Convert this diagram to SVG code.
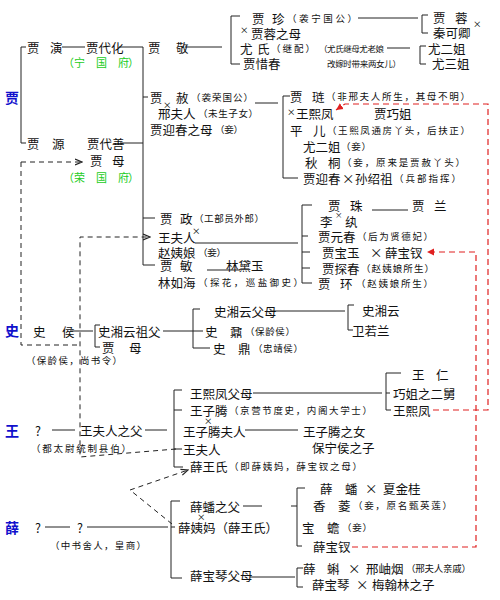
<svg xmlns="http://www.w3.org/2000/svg" width="500" height="600" viewBox="0 0 500 600">
<style>
text{font-family:"Noto Sans CJK SC","Noto Sans",sans-serif;font-size:12.5px;fill:#111;dominant-baseline:central}
.s{font-size:9.5px}
.x{font-size:8.5px}
.g{fill:#22cc22;font-size:11px}
.b{fill:#1010cc;font-weight:bold;font-size:14px}
.l{stroke:#222;stroke-width:1;fill:none}
.d{stroke:#222;stroke-width:1;fill:none;stroke-dasharray:5 4}
.r{stroke:#e02020;stroke-width:1.2;fill:none;stroke-dasharray:6 4}
</style>
<defs>
<marker id="ak" markerWidth="8" markerHeight="8" refX="7" refY="4" orient="auto" markerUnits="userSpaceOnUse"><path d="M0,1 L7,4 L0,7" fill="none" stroke="#222" stroke-width="1.2"/></marker>
<marker id="ar" markerWidth="8" markerHeight="8" refX="7" refY="4" orient="auto" markerUnits="userSpaceOnUse"><path d="M0,0.5 L7,4 L0,7.5 z" fill="#e02020"/></marker>
</defs>
<rect width="500" height="600" fill="#fff"/>

<g id="connectors">
<path class="l" d="M26 47H21V143H26"/>
<path class="l" d="M62 47H85M119 47H143M120 143H143"/>
<path class="l" d="M143 47V265H155M143 97H148M143 218H155"/>
<path class="l" d="M185 47H222"/>
<path class="l" d="M240 16H231V64H240"/>
<path class="l" d="M358 18H418M428 15H422V33H428"/>
<path class="l" d="M387 48H410M426 46H420V64H426"/>
<path class="l" d="M255 103H278M290 96H283V178H298"/>
<path class="l" d="M195 243H298M312 205H302V283H312M302 236H308M302 252H310M302 268H310"/>
<path class="l" d="M207 270H240M372 210H408"/>
<path class="l" d="M70 331H93M100 325H95V347H100"/>
<path class="l" d="M163 331H193M200 309H193V348H210M193 331H203"/>
<path class="l" d="M270 311H345M354 305H348V330H353"/>
<path class="l" d="M52 430H75M145 430H167"/>
<path class="l" d="M182 390H174V467H183M174 410H182M174 449H182"/>
<path class="l" d="M253 393H382M401 373H386V410H391M386 393H390"/>
<path class="l" d="M245 430H298"/>
<path class="l" d="M45 527H70M87 527H168"/>
<path class="l" d="M180 501H171V578H182M171 527H175"/>
<path class="l" d="M243 506H262M291 506H297M305 488H297V546H302"/>
<path class="l" d="M250 577H295M303 568H297V587H303"/>
<path class="d" d="M21 162H82" marker-end="url(#ak)"/>
<path class="d" d="M21 162V345H80"/>
<path class="d" d="M176 449L80 457V237H150" marker-end="url(#ak)"/>
<path class="d" d="M172 524L130 490L188 470" marker-end="url(#ak)"/>
<path class="r" d="M433 410H488V104H345L336 110" marker-end="url(#ar)"/>
<path class="r" d="M352 547H476V252H427" marker-end="url(#ar)"/>
</g>

<g id="surnames">
<text class="b" x="5" y="97">贾</text>
<text class="b" x="5" y="330">史</text>
<text class="b" x="5" y="430">王</text>
<text class="b" x="5" y="527">薛</text>
</g>

<g id="jia-yan"><text x="27" y="47">贾<tspan x="50">演</tspan></text></g>
<g id="jia-daihua"><text x="86" y="47">贾代化</text></g>
<g id="ningguofu"><text class="g" x="63" y="62">（<tspan x="74">宁</tspan><tspan x="96">国</tspan><tspan x="118">府</tspan><tspan x="128">）</tspan></text></g>
<g id="jia-jing"><text x="148" y="47">贾<tspan x="176">敬</tspan></text></g>
<g id="jia-zhen"><text x="252" y="18">贾<tspan x="272">珍</tspan></text><text class="s" x="287" y="18" textLength="70">（袭宁国公）</text></g>
<g id="jiarong-mother"><text class="x" x="240" y="29">×</text><text x="251" y="33">贾蓉之母</text></g>
<g id="you-shi"><text x="240" y="48">尤<tspan x="257">氏</tspan></text><text class="s" x="271" y="48" textLength="44">（继配）</text><text class="s" x="319" y="48" textLength="65" style="font-size:8.5px">（尤氏继母尤老娘</text><text class="s" x="327" y="63" textLength="74" style="font-size:8.5px">改嫁时带来两女儿）</text></g>
<g id="jia-xichun"><text x="243" y="63">贾惜春</text></g>
<g id="jia-rong"><text x="433" y="17">贾<tspan x="455">蓉</tspan></text><text class="x" x="473" y="23">×</text></g>
<g id="qin-keqing"><text x="433" y="32">秦可卿</text></g>
<g id="you-erjie-1"><text x="428" y="48">尤二姐</text></g>
<g id="you-sanjie"><text x="432" y="63">尤三姐</text></g>

<g id="jia-she"><text x="150" y="97">贾<tspan x="176">赦</tspan></text><text class="s" x="191" y="97" textLength="62">（袭荣国公）</text></g>
<g id="xing-furen"><text class="x" x="163" y="104">×</text><text x="158" y="113">邢夫人</text><text class="s" x="198" y="113" textLength="60">（未生子女）</text></g>
<g id="yingchun-mother"><text x="150" y="129">贾迎春之母</text><text class="s" x="215" y="129" textLength="28">（妾）</text></g>
<g id="jia-yuan"><text x="27" y="143">贾<tspan x="52">源</tspan></text></g>
<g id="jia-daishan"><text x="87" y="143">贾代善</text></g>
<g id="jia-mu"><text x="90" y="160">贾<tspan x="112">母</tspan></text></g>
<g id="rongguofu"><text class="g" x="63" y="177">（<tspan x="74">荣</tspan><tspan x="96">国</tspan><tspan x="118">府</tspan><tspan x="128">）</tspan></text></g>

<g id="jia-lian"><text x="290" y="96">贾<tspan x="312">琏</tspan></text><text class="s" x="326" y="96" textLength="144">（非邢夫人所生，其母不明）</text></g>
<g id="wang-xifeng-1"><text class="x" x="287" y="111">×</text><text x="296" y="113">王熙凤</text></g>
<g id="jia-qiaojie"><text x="374" y="113">贾巧姐</text></g>
<g id="ping-er"><text x="290" y="130">平<tspan x="313">儿</tspan></text><text class="s" x="327" y="130" textLength="143">（王熙凤通房丫头，后扶正）</text></g>
<g id="you-erjie-2"><text x="303" y="146">尤二姐</text><text class="s" x="341" y="146" textLength="30">（妾）</text></g>
<g id="qiu-tong"><text x="305" y="162">秋<tspan x="328">桐</tspan></text><text class="s" x="342" y="162" textLength="123">（妾，原来是贾赦丫头）</text></g>
<g id="jia-yingchun"><text x="303" y="178">贾迎春</text><text x="342" y="178">×</text><text x="355" y="178">孙绍祖</text><text class="s" x="394" y="178" textLength="67">（兵部指挥）</text></g>

<g id="jia-zheng"><text x="160" y="218">贾<tspan x="180">政</tspan></text><text class="s" x="194" y="218" textLength="70">（工部员外郎）</text></g>
<g id="wang-furen-1"><text x="158" y="237">王夫人</text><text class="x" x="192" y="230">×</text></g>
<g id="zhao-yiniang"><text x="158" y="252">赵姨娘</text><text class="s" x="198" y="252" textLength="28">（妾）</text></g>
<g id="jia-min"><text x="160" y="265">贾<tspan x="180">敏</tspan></text></g>
<g id="lin-daiyu"><text x="226" y="265">林黛玉</text></g>
<g id="lin-ruhai"><text x="158" y="282">林如海</text><text class="s" x="198" y="282" textLength="105">（探花，巡盐御史）</text></g>

<g id="jia-zhu"><text x="328" y="205">贾<tspan x="350">珠</tspan></text></g>
<g id="jia-lan"><text x="412" y="205">贾<tspan x="434">兰</tspan></text></g>
<g id="li-wan"><text x="320" y="221">李<tspan x="345">纨</tspan></text><text class="x" x="335" y="214" style="font-size:7.5px">×</text></g>
<g id="jia-yuanchun"><text x="318" y="236">贾元春</text><text class="s" x="357" y="236" textLength="76">（后为贤德妃）</text></g>
<g id="jia-baoyu"><text x="322" y="252">贾宝玉</text><text x="370" y="252">×</text></g>
<g id="xue-baochai-1"><text x="385" y="252">薛宝钗</text></g>
<g id="jia-tanchun"><text x="322" y="268">贾探春</text><text class="s" x="361" y="268" textLength="73">（赵姨娘所生）</text></g>
<g id="jia-huan"><text x="318" y="283">贾<tspan x="340">环</tspan></text><text class="s" x="356" y="283" textLength="77">（赵姨娘所生）</text></g>

<g id="shi-hou"><text x="33" y="331">史<tspan x="62">侯</tspan></text><text class="s" x="26" y="360" textLength="96">（保龄侯，尚书令）</text></g>
<g id="shi-grandfather"><text x="98" y="331">史湘云祖父</text></g>
<g id="jia-mu-2"><text x="102" y="347">贾<tspan x="129">母</tspan></text></g>
<g id="shi-parents"><text x="214" y="311">史湘云父母</text></g>
<g id="shi-nai"><text x="205" y="331">史<tspan x="230">鼐</tspan></text><text class="s" x="245" y="331" textLength="50">（保龄侯）</text></g>
<g id="shi-ding"><text x="213" y="348">史<tspan x="238">鼎</tspan></text><text class="s" x="253" y="348" textLength="50">（忠靖侯）</text></g>
<g id="shi-xiangyun"><text x="362" y="310">史湘云</text></g>
<g id="wei-ruolan"><text x="352" y="330">卫若兰</text></g>

<g id="wang-unknown"><text x="35" y="430">?</text></g>
<g id="wang-father"><text x="80" y="430">王夫人之父</text><text class="s" x="31" y="448" textLength="100">（都太尉统制县伯）</text></g>
<g id="xifeng-parents"><text x="190" y="393">王熙凤父母</text></g>
<g id="wang-ziteng"><text x="190" y="410">王子腾</text><text class="s" x="229" y="410" textLength="143">（京营节度史，内阁大学士）</text><text class="x" x="204" y="420">×</text></g>
<g id="ziteng-wife"><text x="183" y="431">王子腾夫人</text></g>
<g id="ziteng-daughter"><text x="303" y="431">王子腾之女</text></g>
<g id="baoning-son"><text x="312" y="447">保宁侯之子</text></g>
<g id="wang-furen-2"><text x="183" y="449">王夫人</text></g>
<g id="xue-wangshi"><text x="190" y="466">薛王氏</text><text class="s" x="229" y="466" textLength="133">（即薛姨妈，薛宝钗之母）</text></g>
<g id="wang-ren"><text x="412" y="374">王<tspan x="436">仁</tspan></text></g>
<g id="qiaojie-uncle"><text x="393" y="393">巧姐之二舅</text></g>
<g id="wang-xifeng-2"><text x="393" y="410">王熙凤</text></g>

<g id="xue-unknown1"><text x="35" y="527">?</text></g>
<g id="xue-unknown2"><text x="77" y="527">?</text><text class="s" x="50" y="545" textLength="96">（中书舍人，皇商）</text></g>
<g id="xuepan-father"><text x="190" y="506">薛蟠之父</text><text class="x" x="197" y="516">×</text></g>
<g id="xue-yima"><text x="178" y="527">薛姨妈（薛王氏）</text></g>
<g id="baoqin-parents"><text x="190" y="575">薛宝琴父母</text></g>
<g id="xue-pan"><text x="320" y="488">薛<tspan x="345">蟠</tspan></text><text x="365" y="488">×</text><text x="383" y="488">夏金桂</text></g>
<g id="xiang-ling"><text x="313" y="505">香<tspan x="338">菱</tspan></text><text class="s" x="353" y="505" textLength="99">（妾，原名甄英莲）</text></g>
<g id="bao-chan"><text x="302" y="527">宝<tspan x="327">蟾</tspan></text><text class="s" x="342" y="527" textLength="30">（妾）</text></g>
<g id="xue-baochai-2"><text x="313" y="546">薛宝钗</text></g>
<g id="xue-ke"><text x="303" y="568">薛<tspan x="327">蝌</tspan></text><text x="348" y="568">×</text><text x="366" y="568">邢岫烟</text><text class="s" x="406" y="568" textLength="65">（邢夫人亲戚）</text></g>
<g id="xue-baoqin"><text x="312" y="584">薛宝琴</text><text x="356" y="584">×</text><text x="372" y="584">梅翰林之子</text></g>
</svg>
